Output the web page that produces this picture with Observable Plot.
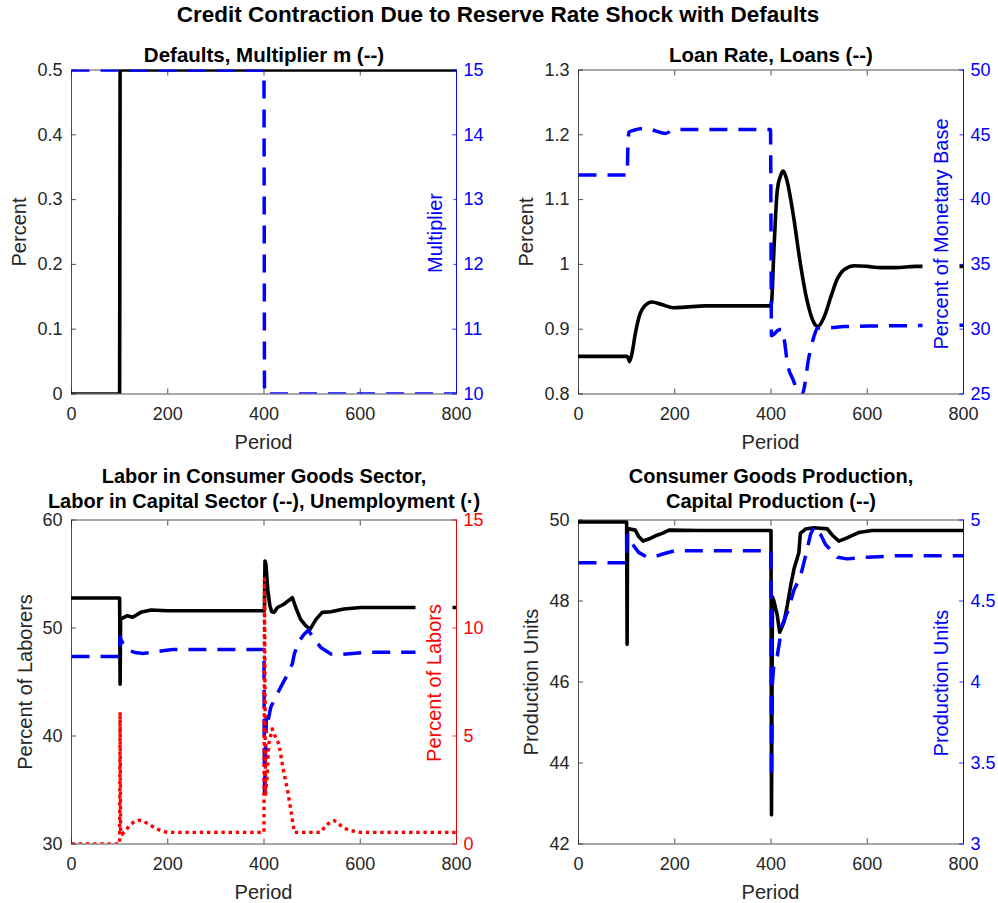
<!DOCTYPE html>
<html><head><meta charset="utf-8">
<script src="https://cdn.jsdelivr.net/npm/d3@7"></script>
<script src="https://cdn.jsdelivr.net/npm/@observablehq/plot@0.6"></script>
<style>
body{margin:0;background:#fff;}
#chart{position:relative;width:998px;height:903px;background:#fff;font-family:"Liberation Sans",Arial,Helvetica,sans-serif;color:#262626;overflow:hidden;}
.ttl{position:absolute;font-weight:bold;text-align:center;white-space:nowrap;color:#000;transform:translate(-50%,-50%);}
.lab{position:absolute;white-space:nowrap;font-size:20px;transform:translate(-50%,-50%);line-height:24px;}
.vlab{transform:translate(-50%,-50%) rotate(-90deg);}
.boxed{background:#fff;line-height:37px;padding:0 2px;}
</style></head>
<body><div id="chart"></div>
<script>
// ---------- data ----------
const periodTicks = [0, 200, 400, 600, 800];

// Panel 1: Defaults, Multiplier
const defaultsPeriod = [0, 100, 101, 800];
const defaultsPct = [0, 0, 0.5, 0.5];
const multiplierPeriod = [0, 400, 401, 800];
const multiplierVal = [15, 15, 10, 10];
const p1LeftTicks = [0, 0.1, 0.2, 0.3, 0.4, 0.5];
const p1RightTicks = [10, 11, 12, 13, 14, 15];

// Panel 2: Loan Rate, Loans
const loanRatePeriod = [0, 100, 103, 106, 111, 118, 128, 139, 152, 173, 197, 222, 263, 399, 401, 406, 413, 420, 425, 433, 447, 461, 475, 489, 497, 510, 524, 538, 552, 573, 600, 628, 660, 700, 800];
const loanRatePct = [0.858, 0.858, 0.856, 0.850, 0.862, 0.893, 0.924, 0.937, 0.942, 0.938, 0.933, 0.934, 0.936, 0.936, 0.94, 1.021, 1.114, 1.137, 1.144, 1.130, 1.073, 1.001, 0.944, 0.910, 0.904, 0.918, 0.949, 0.978, 0.992, 0.998, 0.997, 0.995, 0.995, 0.997, 0.997];
const loansPeriod = [0, 101, 103, 105, 115, 140, 160, 180, 200, 399, 401, 406, 414, 421, 427, 434, 447, 455, 462, 468, 478, 489, 497, 517, 552, 628, 800];
const loansVal = [41.9, 41.9, 44.5, 45.2, 45.35, 45.5, 45.3, 45.1, 45.4, 45.4, 29.5, 29.6, 29.9, 30.0, 29.3, 27.4, 26.0, 25.2, 24.8, 25.3, 27.7, 29.4, 30.1, 30.1, 30.2, 30.25, 30.3];
const p2LeftTicks = [0.8, 0.9, 1, 1.1, 1.2, 1.3];
const p2RightTicks = [25, 30, 35, 40, 45, 50];

// Panel 3: Labor
const laborConsPeriod = [0, 100, 101, 102, 105, 116, 127, 144, 165, 200, 250, 400, 401, 402, 404, 408, 412, 416, 421, 428, 441, 459, 466, 476, 487, 496, 508, 521, 539, 566, 601, 800];
const laborConsVal = [52.78, 52.78, 44.8, 50.83, 50.9, 51.14, 50.99, 51.45, 51.67, 51.6, 51.6, 51.6, 51.67, 56.2, 55.9, 53.5, 52.1, 51.5, 51.45, 51.9, 52.2, 52.8, 51.9, 50.8, 50.2, 49.9, 50.8, 51.45, 51.5, 51.76, 51.9, 51.9];
const laborCapPeriod = [0, 100, 101, 103, 110, 120, 135, 150, 170, 190, 210, 400, 401, 403, 405, 408, 414, 424, 438, 449, 459, 463, 473, 483, 492, 504, 518, 539, 560, 615, 800];
const laborCapVal = [47.35, 47.35, 49.2, 48.9, 48.3, 47.9, 47.7, 47.65, 47.75, 47.9, 48.0, 48.0, 34.2, 38, 42, 41.3, 42.65, 43.6, 44.8, 45.7, 46.7, 47.6, 48.8, 49.4, 49.8, 49.0, 48.2, 47.6, 47.55, 47.75, 47.75];
const unempPeriod = [0, 100, 101, 102, 105, 112, 120, 130, 140, 150, 160, 175, 190, 200, 400, 401, 403, 406, 410, 417, 424, 431, 438, 449, 456, 463, 518, 528, 540, 546, 555, 563, 580, 600, 800];
const unempVal = [0, 0, 6.1, 0.5, 0.45, 0.6, 0.85, 1.02, 1.1, 1.05, 0.92, 0.72, 0.58, 0.54, 0.54, 12.27, 2.3, 3.0, 4.63, 5.33, 4.94, 4.63, 3.7, 2.47, 1.54, 0.54, 0.54, 0.85, 1.05, 1.08, 0.95, 0.77, 0.62, 0.54, 0.54];
const p3LeftTicks = [30, 40, 50, 60];
const p3RightTicks = [0, 5, 10, 15];

// Panel 4: Production
const consProdPeriod = [0, 100, 101, 102, 118, 125, 134, 146, 160, 174, 188, 250, 400, 401, 403, 406, 413, 418, 427, 434, 441, 448, 458, 461, 472, 489, 517, 527, 541, 558, 582, 610, 800];
const consProdVal = [49.95, 49.95, 46.93, 49.79, 49.75, 49.59, 49.48, 49.53, 49.61, 49.67, 49.75, 49.74, 49.74, 42.72, 48.1, 48.0, 47.65, 47.23, 47.48, 47.9, 48.39, 48.8, 49.2, 49.67, 49.78, 49.81, 49.78, 49.63, 49.48, 49.56, 49.69, 49.74, 49.74];
const capProdPeriod = [0, 100, 101, 105, 115, 125, 140, 155, 175, 200, 400, 401, 403, 406, 413, 423, 434, 448, 461, 472, 482, 490, 503, 513, 538, 558, 600, 665, 800];
const capProdVal = [4.736, 4.736, 4.907, 4.88, 4.84, 4.80, 4.775, 4.77, 4.79, 4.81, 4.81, 3.41, 4.0, 4.11, 4.16, 4.35, 4.43, 4.57, 4.65, 4.78, 4.91, 4.96, 4.91, 4.85, 4.77, 4.76, 4.77, 4.78, 4.78];
const p4LeftTicks = [42, 44, 46, 48, 50];
const p4RightTicks = [3, 3.5, 4, 4.5, 5];

// ---------- drawing ----------
const FONT = '"Liberation Sans", Arial, Helvetica, sans-serif';
const AX = "#262626";
const BLUE = "#0000ff";
const RED = "#ff0000";
const chart = document.getElementById("chart");

const SOLID = {stroke: "#000", dash: null, width: 3.6};
const DASHED = {stroke: BLUE, dash: "18,11", width: 3.5};
const DOTTED = {stroke: RED, dash: "3.4,3.8", width: 3.4};

function rows(xs, ys) { return xs.map((x, i) => ({x, y: ys[i]})); }
function lineMark(s) {
  return Plot.line(rows(s.x, s.y), {
    x: "x", y: "y", stroke: s.style.stroke, strokeWidth: s.style.width,
    strokeDasharray: s.style.dash, strokeLinecap: s.style.dash ? "butt" : "round",
    strokeLinejoin: "round", clip: true, curve: s.curve || "linear"
  });
}
const fmt = d => String(d);

function panel(cfg) {
  const common = {
    width: cfg.w, height: cfg.h,
    marginTop: cfg.mt, marginBottom: cfg.mb, marginLeft: cfg.ml, marginRight: cfg.mr
  };
  const styleA = {background: "transparent", fontFamily: FONT, fontSize: "18px", color: AX, overflow: "visible"};
  const a = Plot.plot({
    ...common,
    x: {domain: [0, 800]},
    y: {domain: cfg.yDomain},
    style: styleA,
    marks: [
      Plot.frame({stroke: AX, strokeWidth: 0.8}),
      Plot.axisX(periodTicks, {anchor: "bottom", tickSize: 0, tickPadding: 13, tickFormat: fmt, label: null}),
      Plot.axisX(periodTicks, {anchor: "bottom", tickSize: -5, tickFormat: () => "", label: null, strokeWidth: 0.8}),
      Plot.axisX(periodTicks, {anchor: "top", tickSize: -5, tickFormat: () => "", label: null, strokeWidth: 0.8}),
      Plot.axisY(cfg.yTicks, {anchor: "left", tickSize: 0, tickPadding: 9, tickFormat: fmt, label: null}),
      Plot.axisY(cfg.yTicks, {anchor: "left", tickSize: -5, tickFormat: () => "", label: null, strokeWidth: 0.8}),
      ...cfg.left.map(lineMark)
    ]
  });
  const b = Plot.plot({
    ...common,
    x: {domain: [0, 800], axis: null},
    y: {domain: cfg.y2Domain},
    style: {...styleA, color: cfg.y2Color},
    marks: [
      ...cfg.right.map(lineMark),
      Plot.ruleX([800], {stroke: cfg.y2Color, strokeWidth: 0.9}),
      Plot.axisY(cfg.y2Ticks, {anchor: "right", tickSize: 0, tickPadding: 7, tickFormat: fmt, label: null}),
      Plot.axisY(cfg.y2Ticks, {anchor: "right", tickSize: -5, tickFormat: () => "", label: null, strokeWidth: 0.8})
    ]
  });
  for (const svg of [a, b]) {
    svg.style.position = "absolute";
    svg.style.left = cfg.left0 + "px";
    svg.style.top = cfg.top0 + "px";
    svg.style.maxWidth = "none";
    chart.appendChild(svg);
  }
}

const COL = [{left0: 0, w: 499, ml: 71, mr: 43}, {left0: 499, w: 499, ml: 79, mr: 35}];
const ROW = [{top0: 0, h: 450, mt: 69.5, mb: 56.5}, {top0: 450, h: 453, mt: 69.5, mb: 59.5}];

panel({...COL[0], ...ROW[0], yDomain: [0, 0.5], yTicks: p1LeftTicks, y2Domain: [10, 15], y2Ticks: p1RightTicks, y2Color: BLUE,
  left: [{x: defaultsPeriod, y: defaultsPct, style: SOLID}],
  right: [{x: multiplierPeriod, y: multiplierVal, style: DASHED}]});
panel({...COL[1], ...ROW[0], yDomain: [0.8, 1.3], yTicks: p2LeftTicks, y2Domain: [25, 50], y2Ticks: p2RightTicks, y2Color: BLUE,
  left: [{x: loanRatePeriod, y: loanRatePct, style: SOLID, curve: "monotone-x"}],
  right: [{x: loansPeriod, y: loansVal, style: DASHED, curve: "monotone-x"}]});
panel({...COL[0], ...ROW[1], yDomain: [30, 60], yTicks: p3LeftTicks, y2Domain: [0, 15], y2Ticks: p3RightTicks, y2Color: RED,
  left: [{x: laborConsPeriod, y: laborConsVal, style: SOLID}, {x: laborCapPeriod, y: laborCapVal, style: DASHED}],
  right: [{x: unempPeriod, y: unempVal, style: DOTTED}]});
panel({...COL[1], ...ROW[1], yDomain: [42, 50], yTicks: p4LeftTicks, y2Domain: [3, 5], y2Ticks: p4RightTicks, y2Color: BLUE,
  left: [{x: consProdPeriod, y: consProdVal, style: SOLID}],
  right: [{x: capProdPeriod, y: capProdVal, style: DASHED}]});

// ---------- text ----------
function text(html, cx, cy, cls, style) {
  const d = document.createElement("div");
  d.className = cls;
  d.innerHTML = html;
  d.style.left = cx + "px";
  d.style.top = cy + "px";
  if (style) Object.assign(d.style, style);
  chart.appendChild(d);
  return d;
}
text("Credit Contraction Due to Reserve Rate Shock with Defaults", 498, 15, "ttl", {fontSize: "22.5px"});
text("Defaults, Multiplier m (--)", 264, 55, "ttl", {fontSize: "20.5px"});
text("Loan Rate, Loans (--)", 771, 55, "ttl", {fontSize: "20.5px"});
text("Labor in Consumer Goods Sector,<br>Labor in Capital Sector (--), Unemployment (·)", 264, 489, "ttl", {fontSize: "20px", lineHeight: "25px"});
text("Consumer Goods Production,<br>Capital Production (--)", 771, 489, "ttl", {fontSize: "20px", lineHeight: "25px"});

for (const [cx, cy] of [[263.5, 442], [770.5, 442], [263.5, 892], [770.5, 892]]) text("Period", cx, cy, "lab");
text("Percent", 19, 231.5, "lab vlab");
text("Percent", 526, 231.5, "lab vlab");
text("Percent of Laborers", 25, 681.5, "lab vlab");
text("Production Units", 531, 681.5, "lab vlab");
text("Multiplier", 435, 232.5, "lab vlab boxed", {color: BLUE});
text("Percent of Monetary Base", 941, 234, "lab vlab boxed", {color: BLUE});
text("Percent of Labors", 433.5, 682.5, "lab vlab boxed", {color: RED});
text("Production Units", 941, 682.5, "lab vlab boxed", {color: BLUE});
</script></body></html>
